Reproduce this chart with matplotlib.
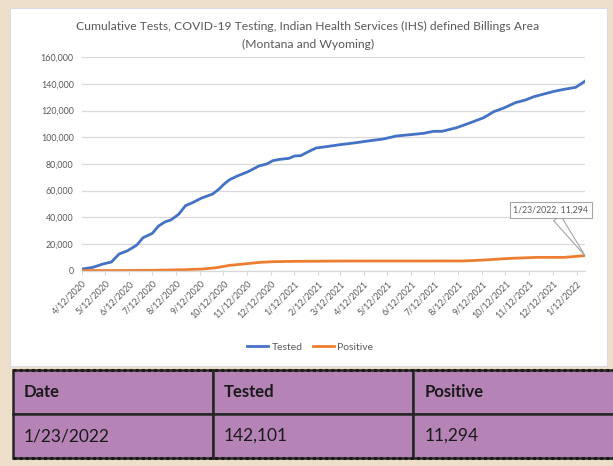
import matplotlib.pyplot as plt
from matplotlib.patches import Rectangle
from matplotlib import font_manager
import numpy as np
import pandas as pd

# data
tested_dates = ["2020-04-12", "2020-04-26", "2020-05-09", "2020-05-20", "2020-05-30",
                "2020-06-10", "2020-06-22", "2020-06-30", "2020-07-12", "2020-07-20",
                "2020-07-29", "2020-08-05", "2020-08-15", "2020-08-24", "2020-09-02",
                "2020-09-13", "2020-09-28", "2020-10-06", "2020-10-13", "2020-10-20",
                "2020-10-31", "2020-11-13", "2020-11-27", "2020-12-07", "2020-12-15",
                "2020-12-24", "2021-01-05", "2021-01-12", "2021-01-20", "2021-01-30",
                "2021-02-09", "2021-02-22", "2021-03-12", "2021-04-02", "2021-04-20",
                "2021-05-07", "2021-05-24", "2021-06-11", "2021-06-28", "2021-07-11",
                "2021-07-22", "2021-08-10", "2021-08-28", "2021-09-14", "2021-09-27",
                "2021-10-10", "2021-10-25", "2021-11-07", "2021-11-18", "2021-12-01",
                "2021-12-14", "2021-12-27", "2022-01-11", "2022-01-23"]
tested = [1250, 2500, 5000, 6500, 12500, 15000, 19250, 24750, 28000, 33500,
          36750, 38000, 42250, 48750, 51000, 54250, 57500, 61000, 65000, 68250,
          71250, 74250, 78500, 80000, 82500, 83500, 84250, 86000, 86250, 89250,
          92000, 93000, 94500, 96000, 97500, 98750, 101000, 102000, 103000, 104500,
          104500, 107250, 111000, 114750, 119250, 122000, 126000, 128000, 130500, 132500,
          134500, 136000, 137500, 142101]

positive_dates = ["2020-04-12", "2020-06-11", "2020-07-13", "2020-08-20", "2020-09-15",
                  "2020-10-03", "2020-10-20", "2020-11-11", "2020-11-28", "2020-12-15",
                  "2021-01-10", "2021-03-12", "2021-08-19", "2021-09-14", "2021-10-18",
                  "2021-11-22", "2021-12-27", "2022-01-23"]
positive = [100, 150, 300, 700, 1250, 2250, 4000, 5250, 6250, 6750,
            7000, 7250, 7300, 8000, 9250, 10000, 10000, 11294]

tick_dates = pd.date_range("2020-04-01", "2022-01-01", freq="MS") + pd.Timedelta(days=11)
table_cols = ["Date", "Tested", "Positive"]
table_row = ["1/23/2022", "142,101", "11,294"]

names = {f.name for f in font_manager.fontManager.ttflist}
narrow = "Liberation Sans Narrow" if "Liberation Sans Narrow" in names else "Lato"
grey = "#595959"

W, H = 613, 466
fig = plt.figure(figsize=(W / 100, H / 100), dpi=100)
fig.patch.set_facecolor("#EEDFCA")

# white chart box
fig.add_artist(Rectangle((10 / W, 1 - 366 / H), 597 / W, 358 / H,
                         transform=fig.transFigure, facecolor="white",
                         edgecolor="#D9DCE8", linewidth=0.8, zorder=0))

ax = fig.add_axes([82 / W, 1 - 270.7 / H, 503 / W, 213.4 / H])
td = pd.to_datetime(tested_dates)
pdts = pd.to_datetime(positive_dates)
ax.plot(td, tested, color="#4472C4", linewidth=2.0, label="Tested", solid_joinstyle="round")
ax.plot(pdts, positive, color="#ED7D31", linewidth=2.0, label="Positive", solid_joinstyle="round")

ax.set_xlim(td[0], td[-1])
ax.set_ylim(0, 160000)
ax.set_yticks(np.arange(0, 160001, 20000))
ax.yaxis.set_major_formatter(plt.FuncFormatter(lambda v, p: f"{int(v):,}"))
ax.set_xticks(tick_dates)
ax.set_xticklabels([f"{d.month}/{d.day}/{d.year}" for d in tick_dates],
                   rotation=45, ha="right", rotation_mode="anchor")
for lab in ax.get_xticklabels() + ax.get_yticklabels():
    lab.set_family(narrow)
    lab.set_fontsize(6.4)
    lab.set_color(grey)
ax.grid(axis="y", color="#D9D9D9", linewidth=0.9)
ax.set_axisbelow(True)
for s in ["top", "right", "left"]:
    ax.spines[s].set_visible(False)
ax.spines["bottom"].set_color("#D9D9D9")
ax.spines["bottom"].set_linewidth(0.9)
ax.tick_params(axis="y", length=0, pad=6)
ax.tick_params(axis="x", length=3, color="#D9D9D9", pad=3)
ax.set_facecolor("none")

ax.annotate("1/23/2022, 11,294", xy=(td[-1], positive[-1]),
            xytext=(-24.5, 33), textcoords="offset points", ha="center", va="center",
            fontsize=6.3, family=narrow, color=grey,
            bbox=dict(boxstyle="square,pad=0.4", fc="white", ec="#A6A6A6", lw=0.8),
            arrowprops=dict(arrowstyle="wedge,tail_width=1.0,shrink_factor=0.5",
                            fc="white", ec="#A6A6A6", lw=0.8, shrinkA=0, shrinkB=0))

fig.suptitle("Cumulative Tests, COVID-19 Testing, Indian Health Services (IHS) defined Billings Area\n(Montana and Wyoming)",
             x=308 / W, y=1 - 21 / H, va="top", fontsize=8.7, family=narrow, color=grey,
             linespacing=1.75)

fig.legend(loc="center", bbox_to_anchor=(310 / W, 1 - 347 / H), ncol=2, frameon=False,
           prop={"family": narrow, "size": 7.5}, handlelength=2.0, columnspacing=1.0,
           handletextpad=0.3, labelcolor=grey)

# table
tax = fig.add_axes([13 / W, 1 - 458 / H, 607 / W, 88 / H])
tax.axis("off")
tbl = tax.table(cellText=[table_row], colLabels=table_cols, cellLoc="left", colLoc="left",
                colWidths=[200 / 607, 200 / 607, 207 / 607], bbox=[0, 0, 1, 1])
tbl.auto_set_font_size(False)
for (r, c), cell in tbl.get_celld().items():
    cell.set_facecolor("#B583B5")
    cell.set_edgecolor("#262626")
    cell.set_linewidth(1.8)
    cell.PAD = 0.055
    t = cell.get_text()
    t.set_family("Lato")
    t.set_color("#1A1A1A")
    if r == 0:
        t.set_fontsize(12)
        t.set_weight("bold")
    else:
        t.set_fontsize(12.5)
for yy in (0, 1):
    tax.plot([0, 1], [yy, yy], transform=tax.transAxes, color="#1A1A1A",
             linestyle=(0, (1, 1)), linewidth=2.2, clip_on=False, zorder=5)

fig.savefig("out.png", dpi=100, facecolor=fig.get_facecolor())
